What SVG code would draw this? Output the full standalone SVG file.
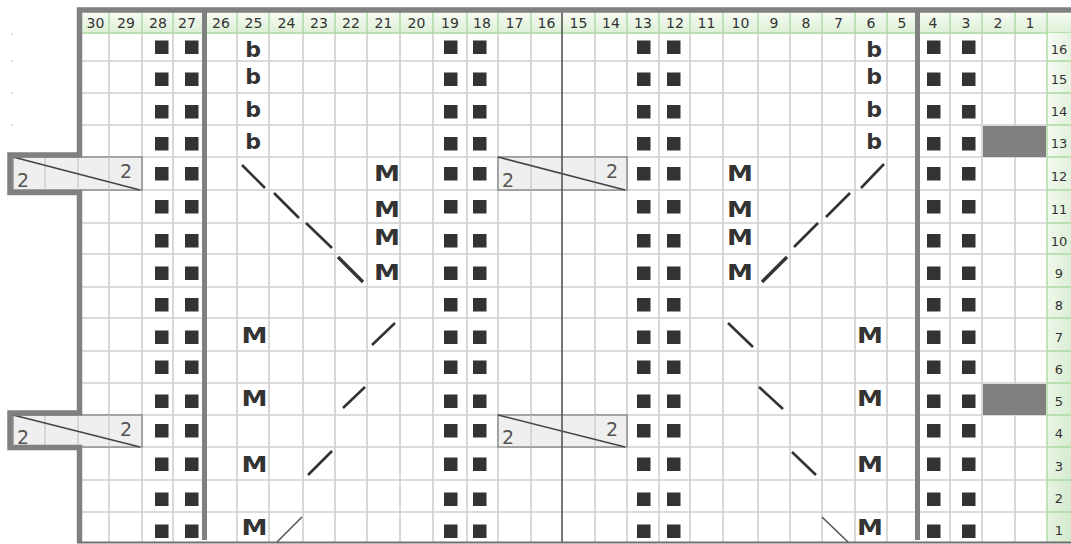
<svg xmlns="http://www.w3.org/2000/svg" width="1071" height="544" viewBox="0 0 1071 544">
<defs>
<linearGradient id="hg" x1="0" y1="0" x2="0" y2="1"><stop offset="0" stop-color="#f8fcf6"/><stop offset="1" stop-color="#dcefd4"/></linearGradient>
<linearGradient id="rg" x1="0" y1="0" x2="1" y2="1"><stop offset="0" stop-color="#f8fcf6"/><stop offset="1" stop-color="#d3eacb"/></linearGradient>
<g id="sqrow" fill="#333">
<rect x="155" width="13.5" height="13.5"/><rect x="185" width="13.5" height="13.5"/>
<rect x="444" width="13.5" height="13.5"/><rect x="473" width="13.5" height="13.5"/>
<rect x="637" width="13.5" height="13.5"/><rect x="667" width="13.5" height="13.5"/>
<rect x="927" width="13.5" height="13.5"/><rect x="962" width="13.5" height="13.5"/>
</g>
</defs>
<style>
.hd{font-family:"DejaVu Sans",Verdana,sans-serif;font-size:14px;fill:#333;text-anchor:middle}
.rn{font-family:"DejaVu Sans",Verdana,sans-serif;font-size:13px;fill:#333;text-anchor:middle}
.m{font-family:"DejaVu Sans",Verdana,sans-serif;font-weight:bold;font-size:21px;fill:#333;text-anchor:middle}
.b{font-family:"DejaVu Sans",Verdana,sans-serif;font-weight:bold;font-size:22px;fill:#333;text-anchor:middle}
.two{font-family:"DejaVu Sans",Verdana,sans-serif;font-size:19px;fill:#555}
.grid{stroke:#cfcfcf;stroke-width:1.6;fill:none}
.green{stroke:#acd9a1;stroke-width:1.4;fill:none}
.box{fill:#efefef;stroke:#777;stroke-width:1.2}
.dg{stroke:#444;stroke-width:1.6}
.st{stroke:#333;stroke-width:2.6}
.st9{stroke:#333;stroke-width:3.4}
.st1{stroke:#555;stroke-width:1.6}
</style>
<rect width="1071" height="544" fill="#fff"/>
<g id="dots" fill="#c8c8c8"><rect x="11" y="33" width="1.5" height="1.5"/><rect x="11" y="60" width="1.5" height="1.5"/><rect x="11" y="92" width="1.5" height="1.5"/><rect x="11" y="124" width="1.5" height="1.5"/></g>
<g id="header">
<rect x="82" y="12" width="989" height="21" fill="url(#hg)"/>
<path class="green" d="M109 12V33M142 12V33M173 12V33M237 12V33M269 12V33M303 12V33M335 12V33M367 12V33M400 12V33M433 12V33M467 12V33M498 12V33M531 12V33M595 12V33M627 12V33M659 12V33M690 12V33M723 12V33M758 12V33M790 12V33M822 12V33M855 12V33M887 12V33M950 12V33M982 12V33M1015 12V33M1047 12V33M82 33H1071"/>
<text class="hd" x="95.5" y="28">30</text><text class="hd" x="126" y="28">29</text><text class="hd" x="158" y="28">28</text><text class="hd" x="187" y="28">27</text>
<text class="hd" x="221" y="28">26</text><text class="hd" x="253.5" y="28">25</text><text class="hd" x="286.5" y="28">24</text><text class="hd" x="319" y="28">23</text>
<text class="hd" x="351" y="28">22</text><text class="hd" x="383.5" y="28">21</text><text class="hd" x="416.5" y="28">20</text><text class="hd" x="450" y="28">19</text>
<text class="hd" x="482" y="28">18</text><text class="hd" x="514.5" y="28">17</text><text class="hd" x="546.5" y="28">16</text><text class="hd" x="578.5" y="28">15</text>
<text class="hd" x="611" y="28">14</text><text class="hd" x="643" y="28">13</text><text class="hd" x="675" y="28">12</text><text class="hd" x="706.5" y="28">11</text>
<text class="hd" x="740.5" y="28">10</text><text class="hd" x="774" y="28">9</text><text class="hd" x="806" y="28">8</text><text class="hd" x="838.5" y="28">7</text>
<text class="hd" x="871" y="28">6</text><text class="hd" x="902" y="28">5</text><text class="hd" x="933" y="28">4</text><text class="hd" x="966" y="28">3</text>
<text class="hd" x="998" y="28">2</text><text class="hd" x="1030" y="28">1</text>
</g>
<g id="rownums">
<rect x="1047" y="33" width="24" height="509" fill="url(#rg)"/>
<path class="green" d="M1047 33V542M1047 61H1071M1047 93H1071M1047 125H1071M1047 157H1071M1047 190H1071M1047 223H1071M1047 254H1071M1047 287H1071M1047 318H1071M1047 351H1071M1047 383H1071M1047 415H1071M1047 447H1071M1047 480H1071M1047 512H1071"/>
<text class="rn" x="1059" y="54">16</text><text class="rn" x="1059" y="84">15</text><text class="rn" x="1059" y="116">14</text><text class="rn" x="1059" y="148">13</text>
<text class="rn" x="1059" y="180.5">12</text><text class="rn" x="1059" y="213.5">11</text><text class="rn" x="1059" y="245.5">10</text><text class="rn" x="1059" y="278">9</text>
<text class="rn" x="1059" y="309.5">8</text><text class="rn" x="1059" y="342">7</text><text class="rn" x="1059" y="374">6</text><text class="rn" x="1059" y="406">5</text>
<text class="rn" x="1059" y="438">4</text><text class="rn" x="1059" y="470.5">3</text><text class="rn" x="1059" y="503">2</text><text class="rn" x="1059" y="534.5">1</text>
</g>
<g id="grid">
<path class="grid" d="M109 33V542M142 33V542M173 33V542M237 33V542M269 33V542M303 33V542M335 33V542M367 33V542M400 33V542M433 33V542M467 33V542M498 33V542M531 33V542M595 33V542M627 33V542M659 33V542M690 33V542M723 33V542M758 33V542M790 33V542M822 33V542M855 33V542M887 33V542M950 33V542M982 33V542M1015 33V542M82 61H1047M82 93H1047M82 125H1047M82 157H1047M82 190H1047M82 223H1047M82 254H1047M82 287H1047M82 318H1047M82 351H1047M82 383H1047M82 415H1047M82 447H1047M82 480H1047M82 512H1047"/>
<rect x="983" y="126" width="63" height="31" fill="#808080"/>
<rect x="983" y="384" width="63" height="31" fill="#808080"/>
</g>
<g id="cable-left-12">
<rect class="box" x="13" y="157" width="129" height="33"/>
<path class="grid" d="M45 157.6V189.4M78 157.6V189.4M109 157.6V189.4"/>
<line class="dg" x1="13" y1="157" x2="140" y2="190"/>
<text class="two" x="17" y="186.5">2</text><text class="two" x="120" y="178">2</text>
</g>
<g id="cable-left-4">
<rect class="box" x="13" y="415" width="129" height="32"/>
<path class="grid" d="M45 415.6V446.4M78 415.6V446.4M109 415.6V446.4"/>
<line class="dg" x1="13" y1="415" x2="140" y2="447"/>
<text class="two" x="17" y="443.5">2</text><text class="two" x="120" y="436">2</text>
</g>
<g id="cable-mid-12">
<rect class="box" x="498" y="157" width="129" height="33"/>
<path class="grid" d="M531 157.6V189.4M595 157.6V189.4"/>
<line class="dg" x1="498" y1="157" x2="625" y2="190"/>
<text class="two" x="502" y="186.5">2</text><text class="two" x="606" y="178">2</text>
</g>
<g id="cable-mid-4">
<rect class="box" x="498" y="415" width="129" height="32"/>
<path class="grid" d="M531 415.6V446.4M595 415.6V446.4"/>
<line class="dg" x1="498" y1="415" x2="625" y2="447"/>
<text class="two" x="502" y="443.5">2</text><text class="two" x="606" y="436">2</text>
</g>
<g id="borders">
<path d="M1071 10H79.5V155H10V192.5H79.5V413H10V447.5H79.5V542" fill="none" stroke="#808080" stroke-width="5.5"/>
<path d="M204.5 12V540M917.5 12V540" stroke="#808080" stroke-width="5"/>
<path d="M562 12.5V542" stroke="#555" stroke-width="1.6"/>
<path d="M77 542.5H1071" stroke="#707070" stroke-width="2"/>
</g>
<g id="purls">
<use href="#sqrow" y="40.5"/><use href="#sqrow" y="72.5"/><use href="#sqrow" y="105"/><use href="#sqrow" y="137"/>
<use href="#sqrow" y="167"/><use href="#sqrow" y="200"/><use href="#sqrow" y="234"/><use href="#sqrow" y="266.5"/>
<use href="#sqrow" y="298"/><use href="#sqrow" y="330.5"/><use href="#sqrow" y="360.5"/><use href="#sqrow" y="394.5"/>
<use href="#sqrow" y="424"/><use href="#sqrow" y="457.5"/><use href="#sqrow" y="492.5"/><use href="#sqrow" y="524.5"/>
</g>
<g id="b-symbols">
<text class="b" x="253" y="56.5">b</text><text class="b" x="253" y="83.5">b</text><text class="b" x="253" y="117">b</text><text class="b" x="253" y="149">b</text>
<text class="b" x="874" y="56.5">b</text><text class="b" x="874" y="83.5">b</text><text class="b" x="874" y="117">b</text><text class="b" x="874" y="149">b</text>
</g>
<g id="m-symbols">
<text class="m" x="387" y="180.5" textLength="26" lengthAdjust="spacingAndGlyphs">M</text>
<text class="m" x="387" y="216.5" textLength="26" lengthAdjust="spacingAndGlyphs">M</text>
<text class="m" x="387" y="245" textLength="26" lengthAdjust="spacingAndGlyphs">M</text>
<text class="m" x="387" y="280" textLength="26" lengthAdjust="spacingAndGlyphs">M</text>
<text class="m" x="740" y="180.5" textLength="26" lengthAdjust="spacingAndGlyphs">M</text>
<text class="m" x="740" y="216.5" textLength="26" lengthAdjust="spacingAndGlyphs">M</text>
<text class="m" x="740" y="245" textLength="26" lengthAdjust="spacingAndGlyphs">M</text>
<text class="m" x="740" y="280" textLength="26" lengthAdjust="spacingAndGlyphs">M</text>
<text class="m" x="254.5" y="343" textLength="26" lengthAdjust="spacingAndGlyphs">M</text>
<text class="m" x="254.5" y="406" textLength="26" lengthAdjust="spacingAndGlyphs">M</text>
<text class="m" x="254.5" y="471.5" textLength="26" lengthAdjust="spacingAndGlyphs">M</text>
<text class="m" x="254.5" y="535" textLength="26" lengthAdjust="spacingAndGlyphs">M</text>
<text class="m" x="870" y="343" textLength="26" lengthAdjust="spacingAndGlyphs">M</text>
<text class="m" x="870" y="406" textLength="26" lengthAdjust="spacingAndGlyphs">M</text>
<text class="m" x="870" y="471.5" textLength="26" lengthAdjust="spacingAndGlyphs">M</text>
<text class="m" x="870" y="535" textLength="26" lengthAdjust="spacingAndGlyphs">M</text>
</g>
<g id="cross-lines">
<line class="st" x1="242" y1="165" x2="265" y2="188"/>
<line class="st" x1="274" y1="193" x2="299" y2="218"/>
<line class="st" x1="306" y1="223" x2="332" y2="248"/>
<line class="st9" x1="338" y1="257" x2="363" y2="282"/>
<line class="st9" x1="762" y1="282" x2="787" y2="257"/>
<line class="st" x1="794" y1="247" x2="818" y2="223"/>
<line class="st" x1="826" y1="217" x2="850" y2="193"/>
<line class="st" x1="861" y1="188" x2="884" y2="164"/>
<line class="st" x1="372" y1="345" x2="395" y2="323"/>
<line class="st" x1="343" y1="408" x2="365" y2="387"/>
<line class="st" x1="308" y1="475" x2="332" y2="451"/>
<line class="st1" x1="277" y1="542" x2="302" y2="517"/>
<line class="st" x1="728" y1="323" x2="753" y2="347"/>
<line class="st" x1="759" y1="387" x2="783" y2="409"/>
<line class="st" x1="792" y1="452" x2="816" y2="475"/>
<line class="st1" x1="822" y1="517" x2="848" y2="542"/>
</g>
</svg>
